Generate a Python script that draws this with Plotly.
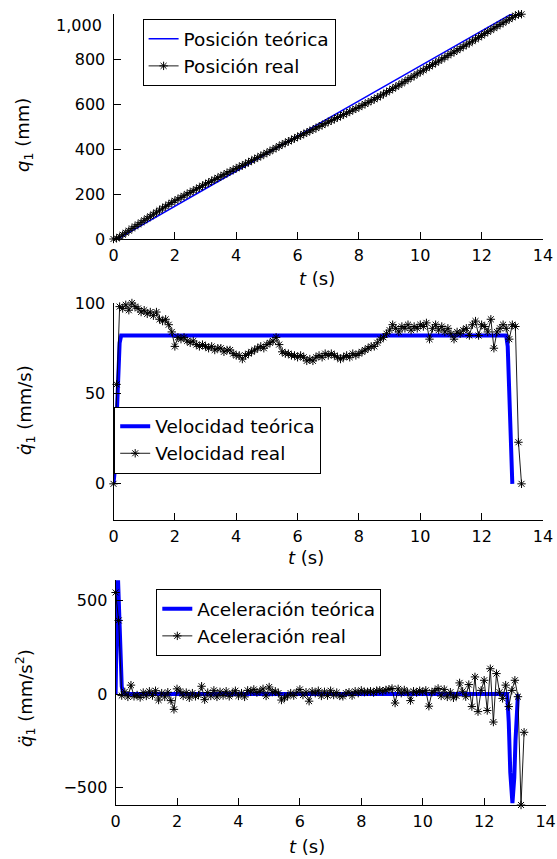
import plotly.graph_objects as go

# ---------------- data ----------------
SAMPLE_STEP = 0.1
t_real = [round(i * SAMPLE_STEP, 1) for i in range(134)]  # 0.0 ... 13.3 s

# theoretical position (mm)
t_pos_teo = [0, 0.1, 0.2, 0.3, 1, 2, 3, 4, 5, 6, 7, 8, 9, 10, 11, 12, 12.8, 12.9, 13.0]
pos_teo = [0, 1, 5, 13, 68, 146, 224, 302, 380, 458, 536, 614, 692, 770, 848, 926, 988, 995, 998]

pos_real = [0, 3, 10, 19, 28, 37, 47, 56, 65, 74, 83, 92, 101, 110, 119, 128, 137, 145, 154, 162,
            170, 177, 185, 192, 200, 207, 215, 222, 229, 237, 244, 251, 258, 265, 272, 279, 286, 293, 300, 307,
            314, 321, 327, 334, 341, 348, 355, 362, 369, 376, 383, 390, 398, 405, 413, 420, 427, 434, 440, 447,
            454, 460, 467, 473, 480, 486, 493, 500, 506, 513, 520, 526, 533, 540, 546, 553, 559, 566, 573, 579,
            586, 593, 600, 607, 614, 621, 629, 636, 644, 652, 660, 668, 676, 684, 692, 701, 709, 717, 725, 734,
            742, 750, 759, 767, 775, 783, 791, 799, 807, 816, 824, 831, 839, 847, 855, 863, 871, 879, 888, 896,
            904, 913, 921, 929, 937, 945, 953, 961, 969, 977, 985, 993, 998, 999]

# theoretical velocity (mm/s)
t_vel_teo = [0, 0.05, 0.1, 0.15, 0.2, 0.25, 12.8, 12.85, 12.9, 12.95, 13.0]
vel_teo = [0, 9, 35, 63, 78, 82, 82, 76, 55, 25, 0]

vel_real = [0, 55, 98, 97, 99, 96, 100, 98, 97, 95, 96, 94, 95, 93, 95, 91, 90, 91, 88, 84,
            76, 81, 80, 81, 79, 78, 79, 77, 76, 77, 76, 75, 76, 74, 75, 75, 73, 74, 74, 72,
            71, 71, 69, 71, 72, 73, 74, 75, 76, 75, 77, 78, 79, 81, 77, 73, 72, 72, 71, 71,
            70, 71, 70, 68, 69, 68, 70, 71, 70, 72, 71, 72, 71, 70, 69, 70, 71, 70, 72, 71,
            72, 73, 74, 75, 76, 76, 78, 80, 81, 83, 85, 88, 86, 84, 87, 86, 88, 85, 87, 86,
            88, 87, 89, 80, 86, 88, 85, 87, 84, 86, 83, 80, 84, 83, 85, 86, 82, 88, 90, 82,
            88, 87, 84, 91, 75, 84, 86, 88, 86, 80, 88, 87, 23, 0]

# theoretical acceleration (mm/s^2)
t_acc_teo = [0, 0.02, 0.05, 0.08, 0.12, 0.16, 0.2, 0.25, 12.75, 12.8, 12.85, 12.92, 12.98, 13.02, 13.06, 13.1]
acc_teo = [0, 300, 560, 610, 450, 200, 40, 0, 0, -150, -420, -585, -450, -250, -50, 0]

acc_real = [545, 395, -8, 12, -15, 48, -12, -5, -18, 8, -10, 15, -8, 18, -32, 5, -15, 10, -35, -82,
            28, 15, -10, 8, -20, 5, -12, -5, 42, -30, 8, -10, 20, -15, 12, -8, 15, -12, 5, 18,
            -10, 5, -15, 20, 12, 25, 8, 15, 28, -10, 38, 10, 15, 5, -32, -20, -10, 5, -8, 10,
            25, -5, 10, -38, 15, 5, 18, -10, 12, -8, 18, -5, 8, -10, -12, 5, 10, -8, 15, 5,
            20, 10, 12, 15, 8, 18, 20, 15, 22, 25, 30, -48, 28, 5, 22, 10, -35, 15, 8, 18,
            12, 20, -65, 10, 18, 30, -10, 25, -15, 10, -20, -10, 60, 15, -14, 51, -67, 92, -94, 20,
            74, -88, 136, -150, 110, 10, -23, 48, -67, 20, 74, -14, -595, -205]

x_ticks = [0, 2, 4, 6, 8, 10, 12, 14]

# ---------------- layout helpers ----------------
W, H = 557, 859
FONT = "DejaVu Sans"
FS = 16      # tick labels
TFS = 18     # axis titles
LFS = 18.5   # legend


def px_x(p):
    return p / W


def px_y(p):
    return 1 - p / H


fig = go.Figure()

real_style = dict(mode="lines+markers", line=dict(color="black", width=0.9),
                  marker=dict(symbol="asterisk-open", size=7, color="black",
                              line=dict(color="black", width=1)),
                  cliponaxis=False)

fig.add_trace(go.Scatter(x=t_pos_teo, y=pos_teo, mode="lines", name="Posición teórica",
                         line=dict(color="#0000ff", width=1.6), xaxis="x", yaxis="y",
                         legend="legend", legendgroup="a"))
fig.add_trace(go.Scatter(x=t_real, y=pos_real, name="Posición real", xaxis="x", yaxis="y",
                         legend="legend", legendgroup="b", **real_style))

fig.add_trace(go.Scatter(x=t_vel_teo, y=vel_teo, mode="lines", name="Velocidad teórica",
                         line=dict(color="#0000ff", width=4), xaxis="x2", yaxis="y2",
                         legend="legend2", legendgroup="c"))
fig.add_trace(go.Scatter(x=t_real, y=vel_real, name="Velocidad real", xaxis="x2", yaxis="y2",
                         legend="legend2", legendgroup="d", **real_style))

fig.add_trace(go.Scatter(x=t_acc_teo, y=acc_teo, mode="lines", name="Aceleración teórica",
                         line=dict(color="#0000ff", width=4), xaxis="x3", yaxis="y3",
                         legend="legend3", legendgroup="e"))
fig.add_trace(go.Scatter(x=t_real, y=acc_real, name="Aceleración real", xaxis="x3", yaxis="y3",
                         legend="legend3", legendgroup="f", **real_style))

axis_common = dict(showline=True, linecolor="black", linewidth=1, ticks="inside", ticklen=7,
                   tickcolor="black", tickwidth=1, showgrid=False, zeroline=False,
                   automargin=False,
                   tickfont=dict(family=FONT, size=FS, color="black"))

# pixel geometry of the three panels
panels = [
    dict(x0=113.5, x1=543.0, y0=14, y1=239),
    dict(x0=113.5, x1=543.0, y0=303, y1=520),
    dict(x0=115.6, x1=545.6, y0=580, y1=805),
]

layout = dict(width=W, height=H, margin=dict(l=0, r=0, t=0, b=0, autoexpand=False),
              paper_bgcolor="white", plot_bgcolor="white", showlegend=True)

yconf = [
    dict(range=[0, 1000], tickvals=[0, 200, 400, 600, 800, 1000],
         ticktext=["0", "200", "400", "600", "800", ""]),
    dict(range=[-20, 100], tickvals=[0, 50, 100]),
    dict(range=[-595, 612], tickvals=[-500, 0, 500]),
]

for i, (p, yc) in enumerate(zip(panels, yconf)):
    sx = "" if i == 0 else str(i + 1)
    layout["xaxis" + sx] = dict(domain=[px_x(p["x0"]), px_x(p["x1"])], range=[0, 14],
                                tickvals=x_ticks, anchor="y" + sx, ticklabelstandoff=2,
                                **axis_common)
    layout["yaxis" + sx] = dict(domain=[px_y(p["y1"]), px_y(p["y0"])], anchor="x" + sx,
                                ticklabelstandoff=4, **yc, **axis_common)

legend_common = dict(xanchor="left", yanchor="top", bgcolor="white", bordercolor="black",
                     borderwidth=1, font=dict(family=FONT, size=LFS, color="black"),
                     tracegroupgap=0, itemwidth=30)
layout["legend"] = dict(x=px_x(142.6), y=px_y(19.3), **legend_common)
layout["legend2"] = dict(x=px_x(114.2), y=px_y(406.7), **legend_common)
layout["legend3"] = dict(x=px_x(156.3), y=px_y(589.3), **legend_common)

fig.update_layout(**layout)

tick_font = dict(family=FONT, size=FS, color="black")
title_font = dict(family=FONT, size=TFS, color="black")
annotations = [
    dict(text="1,000", x=px_x(104), y=px_y(26), xanchor="right", yanchor="middle", font=tick_font),
    dict(text="<i>t</i> (s)", x=px_x(317), y=px_y(278), xanchor="center", yanchor="middle",
         font=title_font),
    dict(text="<i>t</i> (s)", x=px_x(306), y=px_y(557), xanchor="center", yanchor="middle",
         font=title_font),
    dict(text="<i>t</i> (s)", x=px_x(307), y=px_y(846), xanchor="center", yanchor="middle",
         font=title_font),
    dict(text="<i>q</i><sub>1</sub> (mm)", x=px_x(24), y=px_y(135), textangle=-90,
         xanchor="center", yanchor="middle", font=title_font),
    dict(text="<i>q̇</i><sub>1</sub> (mm/s)", x=px_x(26), y=px_y(410), textangle=-90,
         xanchor="center", yanchor="middle", font=title_font),
    dict(text="<i>q̈</i><sub>1</sub> (mm/s<sup>2</sup>)", x=px_x(25), y=px_y(698), textangle=-90,
         xanchor="center", yanchor="middle", font=title_font),
]
for a in annotations:
    a.update(xref="paper", yref="paper", showarrow=False)
fig.update_layout(annotations=annotations)

fig.write_html("out.html", config={"displayModeBar": False},
               post_script="document.body.style.margin='0';document.body.style.overflow='hidden';")
